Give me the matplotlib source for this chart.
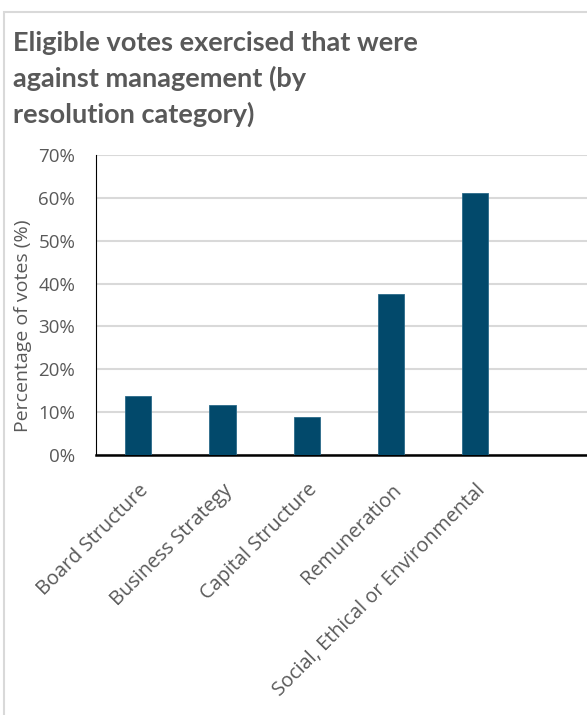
import matplotlib
matplotlib.use("Agg")
import matplotlib.pyplot as plt
from matplotlib.ticker import PercentFormatter, MultipleLocator
from matplotlib.patches import Rectangle

categories = ["Board Structure", "Business Strategy", "Capital Structure",
              "Remuneration", "Social, Ethical or Environmental"]
values = [13.8, 11.7, 8.8, 37.5, 61.2]
title = "Eligible votes exercised that were\nagainst management (by\nresolution category)"
ylabel = "Percentage of votes (%)"

W, H = 587, 715
fig = plt.figure(figsize=(W / 100, H / 100), dpi=100)
plt.rcParams['font.family'] = ['Open Sans', 'DejaVu Sans']

# outer frame
fig.patches.append(Rectangle((4 / W, -0.05), 1.2, (H - 12) / H + 0.05, transform=fig.transFigure,
                             fill=False, edgecolor="#d9d9d9", linewidth=1.5))

left, right = 96, 587
bottom, top = 455, 155
ax = fig.add_axes([left / W, 1 - bottom / H, (right - left) / W, (bottom - top) / H])

x = list(range(len(categories)))
ax.bar(x, values, width=0.31, color="#02496B", edgecolor="#2a6a8a", linewidth=0.6, zorder=3)
ax.set_xlim(-0.5, -0.5 + (right - left) / 84.3)
ax.set_ylim(0, 70)
ax.yaxis.set_major_locator(MultipleLocator(10))
ax.yaxis.set_major_formatter(PercentFormatter(decimals=0))
ax.grid(axis="y", color="#d9d9d9", linewidth=1.5, zorder=0)
ax.set_xticks(x)
ax.set_xticklabels(categories, rotation=45, ha="right", rotation_mode="anchor",
                   fontsize=14.3, color="#595959")
ax.tick_params(axis="x", length=0, pad=18)
ax.tick_params(axis="y", length=0, pad=15, labelsize=13.5, labelcolor="#595959")
for s in ["top", "right"]:
    ax.spines[s].set_visible(False)
ax.spines["left"].set_color("black")
ax.spines["left"].set_linewidth(0.8)
ax.spines["bottom"].set_color("black")
ax.spines["bottom"].set_linewidth(1.8)
ax.set_ylabel(ylabel, fontsize=14, color="#595959")
ax.yaxis.set_label_coords(-0.131, 0.43)

fig.text(13 / W, 1 - 31 / H, title, fontsize=19.5, fontweight="bold", color="#595959",
         va="top", ha="left", linespacing=1.5, family=["Lato", "DejaVu Sans"])

fig.savefig("out.png", dpi=100)
